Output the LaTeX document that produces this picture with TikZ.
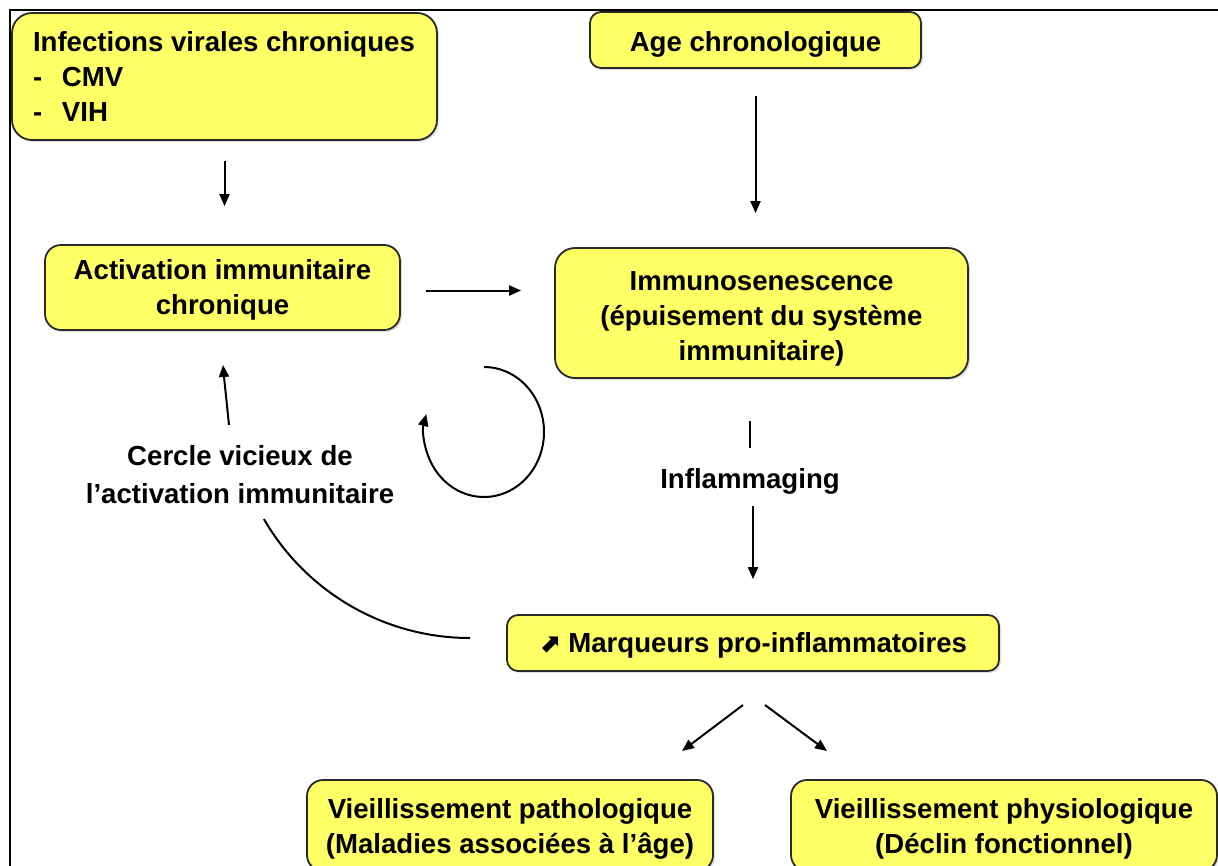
\documentclass[tikz,border=0pt]{standalone}
\usepackage{fontspec}
\setmainfont{Liberation Sans}
\newfontfamily\symfont{DejaVu Sans}
\usetikzlibrary{arrows.meta,shadows}
\definecolor{boxyellow}{HTML}{FFFF66}
\definecolor{boxline}{HTML}{2A2A2A}
\newcommand{\tup}[1]{\rule{0pt}{#1pt}}
\tikzset{
  ybox/.style={draw=boxline, line width=1.8pt, fill=boxyellow, inner sep=0pt, align=center,
    drop shadow={opacity=0.25, shadow xshift=2pt, shadow yshift=-2pt},
    font=\fontsize{27.6}{35}\selectfont\bfseries},
  lbl/.style={inner sep=0pt, align=center, font=\fontsize{27.6}{38}\selectfont\bfseries},
  arr/.style={line width=2pt, -{Triangle[length=12pt,width=10pt]}},
  plain/.style={line width=2pt},
}
\begin{document}
\begin{tikzpicture}[x=1pt,y=-1pt]
\useasboundingbox (0,0) rectangle (1218,865);
% frame
\draw[line width=2.5pt] (10,880) -- (10,10) -- (1230,10);

% boxes
\node[ybox, rounded corners=20pt, minimum width=425pt, minimum height=127pt, align=left] (inf) at (224.5,76.5)
  {\makebox[383pt][l]{Infections virales chroniques}\\\makebox[29pt][l]{-}CMV\\\makebox[29pt][l]{-}VIH};
\node[ybox, rounded corners=11pt, minimum width=331pt, minimum height=56pt] (age) at (755.5,40) {\tup{28}Age chronologique};
\node[ybox, rounded corners=16pt, minimum width=355pt, minimum height=85pt] (act) at (222.5,287.5) {\tup{25}Activation immunitaire\\chronique};
\node[ybox, rounded corners=20pt, minimum width=413pt, minimum height=130pt] (imm) at (761.5,313) {\tup{30}Immunosenescence\\(épuisement du système\\immunitaire)};
\node[ybox, rounded corners=11pt, minimum width=492pt, minimum height=56pt] (marq) at (753,643) {\tup{25}{\symfont\bfseries\fontsize{26}{34}\selectfont ⬈} Marqueurs pro-inflammatoires};
\node[ybox, rounded corners=16pt, minimum width=406pt, minimum height=91pt] (vp) at (510,825.5) {\tup{26}Vieillissement pathologique\\(Maladies associées à l’âge)};
\node[ybox, rounded corners=16pt, minimum width=426pt, minimum height=91pt] (vph) at (1004,825.5) {\tup{26}Vieillissement physiologique\\(Déclin fonctionnel)};

% labels
\node[lbl] (infl) at (750,481) {Inflammaging};
\node[lbl] (cv) at (240,475) {Cercle vicieux de\\l’activation immunitaire};

% connectors
\draw[arr, shorten <=20pt, shorten >=38pt] (inf.south) -- (inf.south |- act.north);
\draw[arr, shorten <=27pt, shorten >=34pt] (age.south) -- (age.south |- imm.north);
\draw[arr, shorten <=25pt, shorten >=33pt] ([yshift=-3pt]act.east) -- ([yshift=-3pt]act.east -| imm.west);
\draw[plain, shorten <=42pt, shorten >=20pt] (infl.north |- imm.south) -- (infl.north);
\draw[arr, shorten <=12pt, shorten >=35pt] ([xshift=3pt]infl.south) -- ([xshift=3pt]infl.south |- marq.north);

\coordinate (d1s) at (743,705);
\coordinate (d1e) at (682,751);
\coordinate (d2s) at (765,705);
\coordinate (d2e) at (827,751);
\draw[arr] (d1s) -- (d1e);
\draw[arr] (d2s) -- (d2e);

% vicious circle
\coordinate (cs) at (470,638);
\draw[plain] (cs) arc[start angle=90, end angle=150, radius=238];
\coordinate (us) at (229,425);
\coordinate (ue) at (223,365);
\draw[arr] (us) .. controls (226,400) .. (ue);

% small loop
\coordinate (ls) at (484,367);
\draw[arr] (ls) arc[start angle=-90, end angle=196, x radius=60, y radius=65];
\end{tikzpicture}
\end{document}
